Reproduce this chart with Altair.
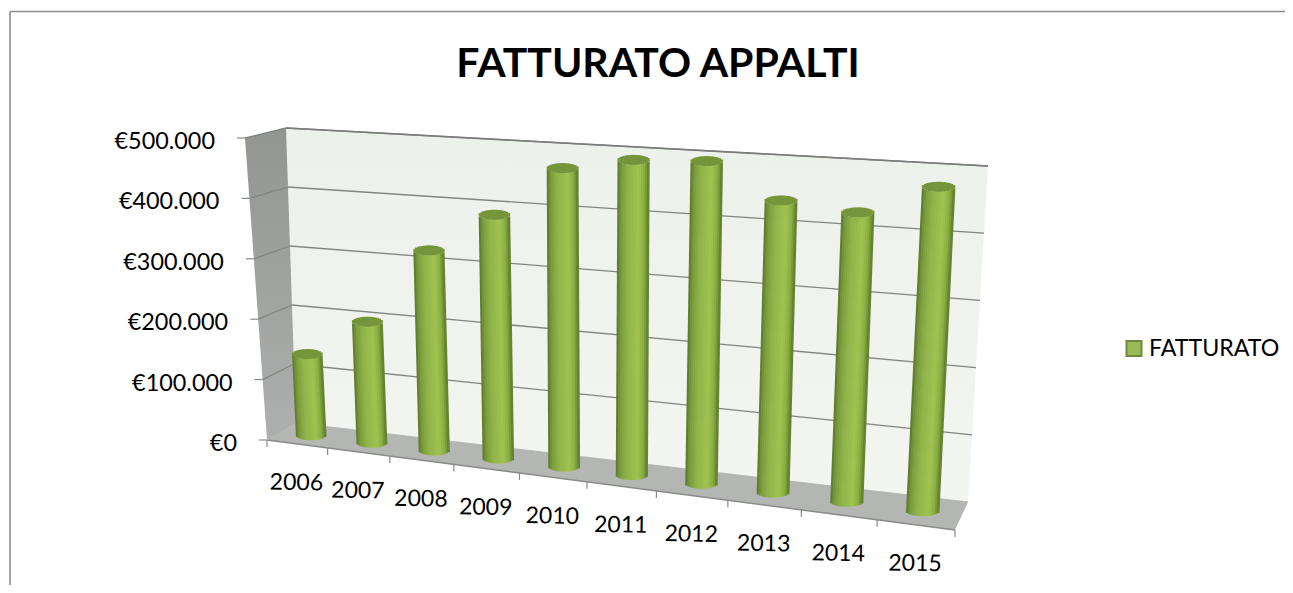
import numpy as np
import pandas as pd
import altair as alt

YEARS = ["2006","2007","2008","2009","2010","2011","2012","2013","2014","2015"]
FATTURATO = [135000,199000,325000,391000,473000,493000,498000,445000,435000,481000]
Y_TICKS = [0,100000,200000,300000,400000,500000]
Y_LABELS = ["€0","€100.000","€200.000","€300.000","€400.000","€500.000"]
VMAX = 500000
FONT = "Lato"

# picture-space corners of the 3D box: front-left, front-right, back-right, back-left
FLOOR = [(267,440),(955,530),(968,502),(296,423)]
CEIL = [(245,138),(972,187),(988,166),(286,128)]
PERSPECTIVE = 0.15
W, H = 1277, 577

def bil(q,s,d):
    q=np.array(q,float)
    return (1-d)*((1-s)*q[0]+s*q[1])+d*((1-s)*q[3]+s*q[2])
def P(t,d,val):
    """t = category position 0..10, d = depth 0 (front)..1 (back), val = value"""
    a=t/10
    s=a/(1+PERSPECTIVE-PERSPECTIVE*a)
    b=bil(FLOOR,s,d);c=bil(CEIL,s,d)
    return b+(c-b)*val/VMAX

def poly(pts):
    return pd.DataFrame({"x":[p[0] for p in pts],"y":[p[1] for p in pts],"o":range(len(pts))})

X=lambda f="x":alt.X(f"{f}:Q",scale=alt.Scale(domain=[8,8+W],nice=False,zero=False),axis=None)
Y=lambda f="y":alt.Y(f"{f}:Q",scale=alt.Scale(domain=[8+H,8],nice=False,zero=False),axis=None)

def fill_poly(pts,fill):
    return alt.Chart(poly(pts)).mark_line(interpolate="linear-closed",fill=fill,stroke="transparent",strokeWidth=0).encode(x=X(),y=Y(),order="o:Q")

def rules(rows,color,width):
    df=pd.DataFrame(rows,columns=["x","y","x2","y2"])
    return alt.Chart(df).mark_rule(color=color,strokeWidth=width).encode(x=X(),y=Y(),x2="x2:Q",y2="y2:Q")

def vgrad(a,b):
    return alt.Gradient(gradient="linear",x1=0,x2=0,y1=0,y2=1,stops=[alt.GradientStop(color=a,offset=0),alt.GradientStop(color=b,offset=1)])

layers=[]
layers.append(fill_poly([P(0,1,0),P(10,1,0),P(10,1,VMAX),P(0,1,VMAX)],vgrad("#edf1eb","#f2f5f0")))
layers.append(fill_poly([P(0,0,0),P(0,1,0),P(0,1,VMAX),P(0,0,VMAX)],vgrad("#939592","#aeb0af")))
layers.append(fill_poly([P(0,0,0),P(10,0,0),P(10,1,0),P(0,1,0)],"#b4b6b3"))

# gridlines on side and back walls
grid=[]
for v in Y_TICKS[1:]:
    a=P(0,0,v);b=P(0,1,v);c=P(10,1,v)
    grid.append([*a,*b]);grid.append([*b,*c])
layers.append(rules(grid,"#7f8780",1.3))
layers.append(rules([[*P(0,1,VMAX),*P(10,1,VMAX)]],"#7c7c7c",1.7))
layers.append(rules([[*P(0,0,0),*P(10,0,0)]],"#8a8a8a",1.5))
layers.append(rules([[*P(0,0,0),*P(0,1,0)],[*P(0,1,0),*P(10,1,0)]],"#aeb0ad",0.8))

# cylinders
stops_u=[-1,-.75,-.3,.35,.72,1]
stops_c=np.array([[0x58,0x75,0x2c],[0x7a,0x9a,0x3c],[0x90,0xb4,0x49],[0xa0,0xc3,0x51],[0x8a,0xad,0x42],[0x5a,0x78,0x2b]],float)
def shade(u):
    return "#%02x%02x%02x"%tuple(int(round(np.interp(u,stops_u,stops_c[:,k]))) for k in range(3))
N=16;ELL=5.0
body=[];cap=[]
for i,val in enumerate(FATTURATO):
    t=i+.5
    w=29.5+3.5*t/10
    b=P(t,.5,0);c=P(t,.5,val)
    for k in range(N):
        u=-1+(2*k+1)/N
        h=ELL*np.sqrt(max(0,1-u*u))
        dx=u*w/2
        body.append(dict(x=b[0]+dx,y=b[1]+h,x2=c[0]+dx,y2=c[1]+h,c=shade(u)))
        cap.append(dict(x=c[0]+dx,y=c[1]-h,x2=c[0]+dx,y2=c[1]+h,c="#76953a"))
layers.append(alt.Chart(pd.DataFrame(body)).mark_rule(strokeWidth=2.7).encode(x=X(),y=Y(),x2="x2:Q",y2="y2:Q",color=alt.Color("c:N",scale=None)))
layers.append(alt.Chart(pd.DataFrame(cap)).mark_rule(strokeWidth=2.8).encode(x=X(),y=Y(),x2="x2:Q",y2="y2:Q",color=alt.Color("c:N",scale=None)))

# ticks
yt=[[P(0,0,v)[0],P(0,0,v)[1],P(0,0,v)[0]-8,P(0,0,v)[1]] for v in Y_TICKS]
xt=[[P(t,0,0)[0],P(t,0,0)[1],P(t,0,0)[0],P(t,0,0)[1]+7] for t in range(11)]
layers.append(rules(yt+xt,"#8a8a8a",1.2))

# axis labels
ydf=pd.DataFrame({"x":[P(0,0,v)[0] for v in Y_TICKS],"y":[P(0,0,v)[1] for v in Y_TICKS],"t":Y_LABELS})
layers.append(alt.Chart(ydf).mark_text(align="right",baseline="middle",dx=-30,dy=4,font=FONT,fontSize=23.4,color="#000000").encode(x=X(),y=Y(),text="t:N"))
xdf=pd.DataFrame({"x":[P(i+.5,0,0)[0] for i in range(10)],"y":[P(i+.5,0,0)[1] for i in range(10)],"t":YEARS})
layers.append(alt.Chart(xdf).mark_text(align="center",baseline="middle",dy=39,angle=1,font=FONT,fontSize=23,color="#000000").encode(x=X(),y=Y(),text="t:N"))

# title
layers.append(alt.Chart(pd.DataFrame({"t":["FATTURATO APPALTI"]})).mark_text(font=FONT,fontSize=41,fontWeight="bold",color="#000000",baseline="middle",align="center").encode(x=alt.value(650),y=alt.value(57),text="t:N"))

# legend
lg=pd.DataFrame({"t":["FATTURATO"]})
layers.append(alt.Chart(lg).mark_square(size=225,filled=True,fill="#9bbb59",stroke="#71893f",strokeWidth=2,opacity=1).encode(x=alt.value(1126),y=alt.value(340.5)))
layers.append(alt.Chart(lg).mark_text(font=FONT,fontSize=23.2,color="#000000",align="left",baseline="middle").encode(x=alt.value(1141),y=alt.value(341),text="t:N"))

# outer frame (cut by the picture's right and bottom edges)
layers.append(alt.Chart(lg).mark_rule(color="#8c8c8c",strokeWidth=1.6).encode(x=alt.value(2),y=alt.value(3.5),x2=alt.value(W)))
layers.append(alt.Chart(lg).mark_rule(color="#8c8c8c",strokeWidth=1.6).encode(x=alt.value(2),y=alt.value(3.5),y2=alt.value(H)))

chart=alt.layer(*layers).properties(width=W,height=H,padding=0,autosize="none",background="#ffffff").configure_view(stroke=None)
chart.save("out.html",embed_options={"renderer":"svg","actions":False})
